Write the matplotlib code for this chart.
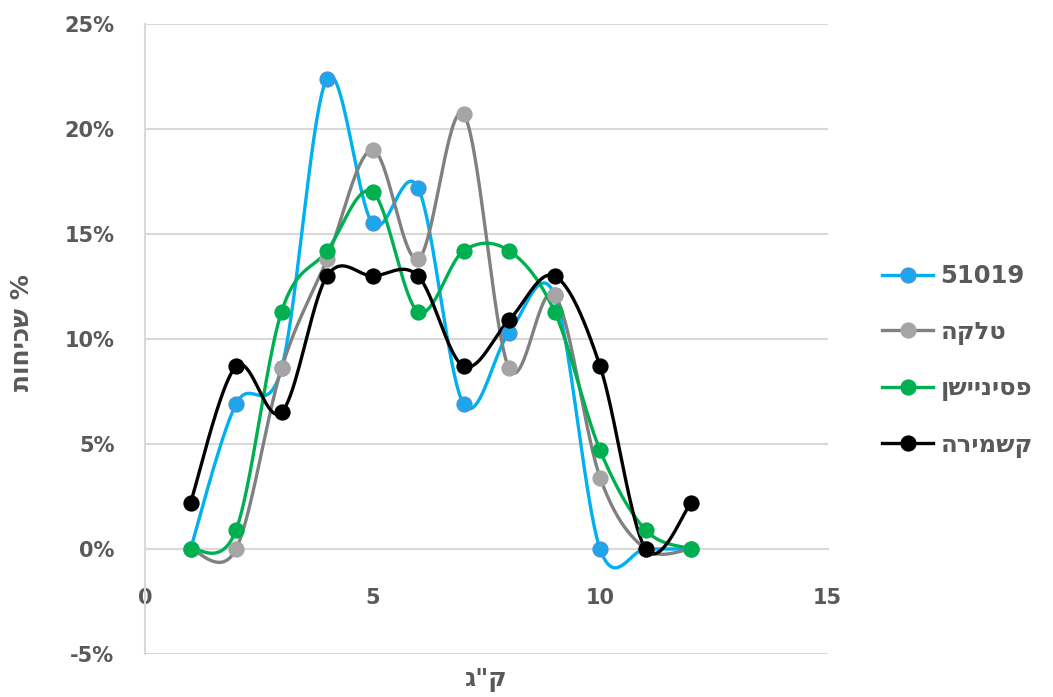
import matplotlib
matplotlib.use("Agg")
import matplotlib.pyplot as plt
from matplotlib.ticker import PercentFormatter
import numpy as np

plt.rcParams['font.family'] = ['DejaVu Sans']
plt.rcParams['font.weight'] = 'bold'
plt.rcParams['axes.unicode_minus'] = False

weight = [1, 2, 3, 4, 5, 6, 7, 8, 9, 10, 11, 12]
s51019 = [0.0, 6.9, 8.6, 22.4, 15.5, 17.2, 6.9, 10.3, 12.1, 0.0, 0.0, 0.0]
talka = [0.0, 0.0, 8.6, 13.8, 19.0, 13.8, 20.7, 8.6, 12.1, 3.4, 0.0, 0.0]
pasination = [0.0, 0.9, 11.3, 14.2, 17.0, 11.3, 14.2, 14.2, 11.3, 4.7, 0.9, 0.0]
kashmira = [2.2, 8.7, 6.5, 13.0, 13.0, 13.0, 8.7, 10.9, 13.0, 8.7, 0.0, 2.2]

# matplotlib has no bidi support, so hebrew is stored in display (left-to-right) order
names = ['51019', 'הקלט', 'ןשייניספ', 'הרימשק']
line_colors = ['#00B0F0', '#808080', '#00B050', '#000000']
marker_faces = ['#1AA7EC', '#A5A5A5', '#00B050', '#000000']
marker_edges = ['#4A93D8', '#A5A5A5', '#00B050', '#000000']

TXT = '#595959'


def smooth(x, y, n=40):
    # cubic bezier through every point, tangent from neighbours (like spreadsheet smoothed lines)
    p = np.column_stack([x, y]).astype(float)
    k = len(p)
    out = [p[:1]]
    t = np.linspace(0, 1, n)[1:, None]
    for i in range(k - 1):
        p0 = p[max(i - 1, 0)]
        p1, p2 = p[i], p[i + 1]
        p3 = p[min(i + 2, k - 1)]
        c1 = p1 + (p2 - p0) / 6
        c2 = p2 - (p3 - p1) / 6
        seg = ((1 - t) ** 3) * p1 + 3 * ((1 - t) ** 2) * t * c1 + 3 * (1 - t) * t ** 2 * c2 + t ** 3 * p2
        out.append(seg)
    c = np.vstack(out)
    return c[:, 0], c[:, 1]


fig, ax = plt.subplots(figsize=(10.53, 6.97), dpi=100)
fig.subplots_adjust(left=0.1377, right=0.786, top=0.9656, bottom=0.0617)

for vals, name, lc, mf, me in zip([s51019, talka, pasination, kashmira], names,
                                  line_colors, marker_faces, marker_edges):
    y = np.array(vals) / 100
    sx, sy = smooth(weight, y)
    ax.plot(sx, sy, color=lc, lw=2.4, solid_capstyle='round', zorder=3)
    ax.plot(weight, y, ls='none', marker='o', ms=10.5, mfc=mf, mec=me, mew=1.2, zorder=4)
    ax.plot([], [], color=lc, lw=2.4, marker='o', ms=10.5, mfc=mf, mec=me, mew=1.2, label=name)

ax.set_xlim(0, 15)
ax.set_ylim(-0.05, 0.25)
ax.set_xticks([0, 5, 10, 15])
ax.set_yticks(np.arange(-0.05, 0.2501, 0.05))
ax.yaxis.set_major_formatter(PercentFormatter(1.0, decimals=0))
ax.grid(axis='y', color='#D9D9D9', lw=1.5)
ax.set_axisbelow(True)

for s in ['top', 'right']:
    ax.spines[s].set_visible(False)
ax.spines['left'].set_color('#D9D9D9')
ax.spines['left'].set_linewidth(1.5)
ax.spines['bottom'].set_position(('data', 0))
ax.spines['bottom'].set_color('#D9D9D9')
ax.spines['bottom'].set_linewidth(1.5)

ax.tick_params(axis='both', length=0, labelsize=15, labelcolor=TXT)
ax.tick_params(axis='y', pad=22)
ax.tick_params(axis='x', pad=28)

ax.set_xlabel('ג"ק', fontsize=18, color=TXT, fontweight='bold')
ax.xaxis.set_label_coords(0.5, -0.022)
ax.set_ylabel('תוחיכש %', fontsize=18, color=TXT, fontweight='bold')
ax.yaxis.set_label_coords(-0.163, 0.51)

leg = ax.legend(loc='center left', bbox_to_anchor=(1.08, 0.465), frameon=False,
                fontsize=17.5, labelspacing=1.3, handlelength=2.1, handletextpad=0.3,
                borderaxespad=0, borderpad=0)
for t in leg.get_texts():
    t.set_color(TXT)

fig.savefig('out.png', dpi=100)
